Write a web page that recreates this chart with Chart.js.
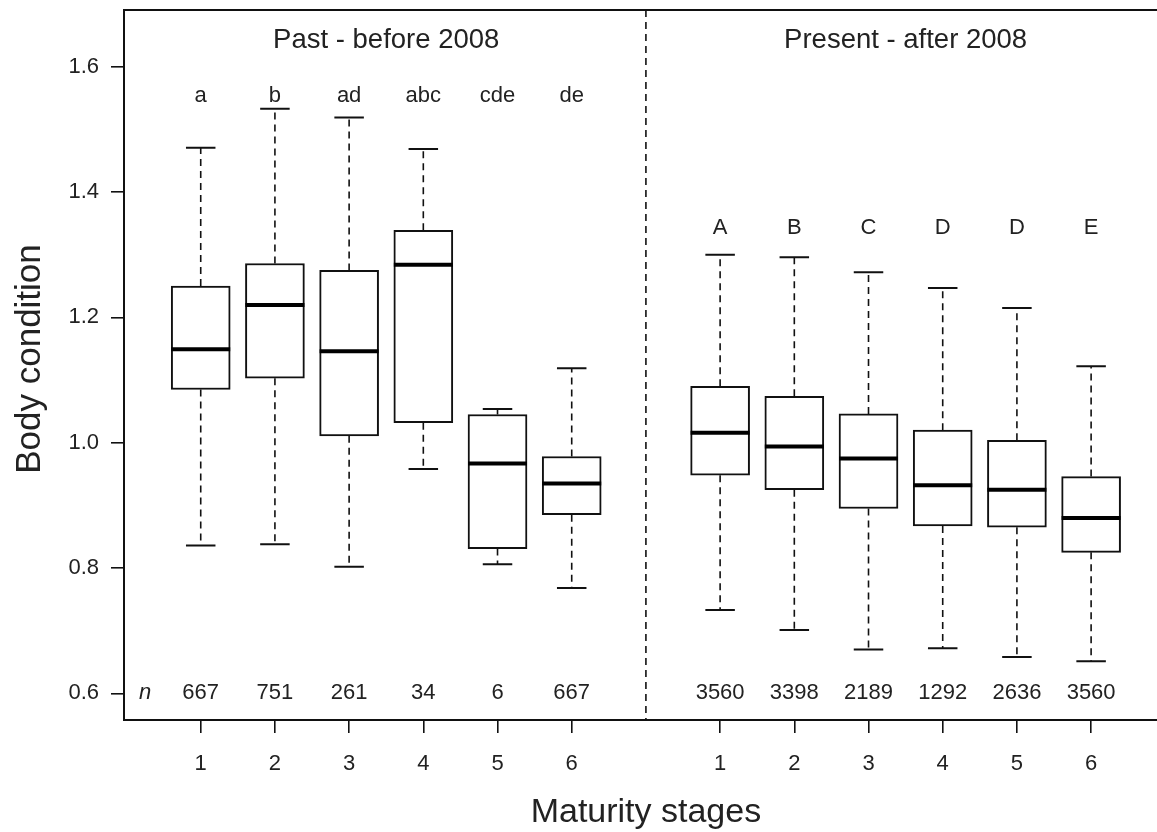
<!DOCTYPE html>
<html>
<head>
<meta charset="utf-8">
<script src="https://cdn.jsdelivr.net/npm/chart.js@4/dist/chart.umd.min.js"></script>
<style>
  html, body { margin: 0; padding: 0; background: #fff; overflow: hidden; }
  #wrap { width: 1157px; height: 832px; }
</style>
</head>
<body>
<div id="wrap"><canvas id="c" width="1157" height="832"></canvas></div>
<script>
// ---------------- data ----------------
const stageLabels = ['1', '2', '3', '4', '5', '6'];
const periodTitles = ['Past - before 2008', 'Present - after 2008'];
const yTickValues = [0.6, 0.8, 1.0, 1.2, 1.4, 1.6];

// Past - before 2008
const pastMin    = [0.836, 0.838, 0.802, 0.958, 0.806, 0.768];
const pastQ1     = [1.085, 1.103, 1.011, 1.032, 0.831, 0.885];
const pastMedian = [1.149, 1.220, 1.146, 1.284, 0.967, 0.935];
const pastQ3     = [1.250, 1.286, 1.275, 1.339, 1.045, 0.978];
const pastMax    = [1.471, 1.533, 1.519, 1.469, 1.054, 1.119];
const pastLetters = ['a', 'b', 'ad', 'abc', 'cde', 'de'];
const pastN       = ['667', '751', '261', '34', '6', '667'];

// Present - after 2008
const presMin    = [0.733, 0.701, 0.670, 0.672, 0.658, 0.651];
const presQ1     = [0.948, 0.925, 0.895, 0.867, 0.865, 0.825];
const presMedian = [1.016, 0.994, 0.975, 0.932, 0.925, 0.880];
const presQ3     = [1.090, 1.074, 1.046, 1.020, 1.004, 0.946];
const presMax    = [1.300, 1.296, 1.272, 1.247, 1.215, 1.122];
const presLetters = ['A', 'B', 'C', 'D', 'D', 'E'];
const presN       = ['3560', '3398', '2189', '1292', '2636', '3560'];

// positions on the shared x axis (past 1..6, divider at 7, present 8..13)
const pastX = [1, 2, 3, 4, 5, 6];
const presX = [8, 9, 10, 11, 12, 13];
const dividerX = 7;

// ---------------- derived ----------------
const allX = pastX.concat(presX);
const allMin = pastMin.concat(presMin);
const allQ1 = pastQ1.concat(presQ1);
const allMed = pastMedian.concat(presMedian);
const allQ3 = pastQ3.concat(presQ3);
const allMax = pastMax.concat(presMax);
const tickLabelMap = {};
allX.forEach((x, i) => { tickLabelMap[x] = stageLabels[i % 6]; });

const FONT = "'Liberation Sans', Arial, Helvetica, sans-serif";
const TXT = '#222';
const LINE = '#111';

const boxPlugin = {
  id: 'boxExtras',
  beforeDatasetsDraw(chart) {
    const ctx = chart.ctx, xs = chart.scales.x, ys = chart.scales.y;
    const meta = chart.getDatasetMeta(0);
    ctx.save();
    ctx.strokeStyle = LINE;
    // whiskers (dashed) and caps
    meta.data.forEach((el, i) => {
      const x = xs.getPixelForValue(allX[i]);
      const capHalf = el.width / 4;
      ctx.lineWidth = 1.6;
      ctx.setLineDash([7, 5]);
      ctx.beginPath();
      ctx.moveTo(x, ys.getPixelForValue(allQ3[i]));
      ctx.lineTo(x, ys.getPixelForValue(allMax[i]));
      ctx.moveTo(x, ys.getPixelForValue(allQ1[i]));
      ctx.lineTo(x, ys.getPixelForValue(allMin[i]));
      ctx.stroke();
      ctx.setLineDash([]);
      ctx.lineWidth = 2;
      ctx.beginPath();
      const yMax = ys.getPixelForValue(allMax[i]);
      const yMin = ys.getPixelForValue(allMin[i]);
      ctx.moveTo(x - capHalf, yMax); ctx.lineTo(x + capHalf, yMax);
      ctx.moveTo(x - capHalf, yMin); ctx.lineTo(x + capHalf, yMin);
      ctx.stroke();
    });
    // divider
    const a = chart.chartArea;
    const dx = xs.getPixelForValue(dividerX);
    ctx.lineWidth = 1.6;
    ctx.setLineDash([7, 5]);
    ctx.beginPath();
    ctx.moveTo(dx, a.top); ctx.lineTo(dx, a.bottom);
    ctx.stroke();
    ctx.setLineDash([]);
    // top frame line
    ctx.lineWidth = 2;
    ctx.beginPath();
    ctx.moveTo(a.left, a.top); ctx.lineTo(a.right, a.top);
    ctx.stroke();
    ctx.restore();
  },
  afterDatasetsDraw(chart) {
    const ctx = chart.ctx, xs = chart.scales.x, ys = chart.scales.y;
    const meta = chart.getDatasetMeta(0);
    const a = chart.chartArea;
    ctx.save();
    // medians
    ctx.strokeStyle = '#000';
    ctx.lineWidth = 4;
    meta.data.forEach((el, i) => {
      const y = ys.getPixelForValue(allMed[i]);
      ctx.beginPath();
      ctx.moveTo(el.x - el.width / 2, y);
      ctx.lineTo(el.x + el.width / 2, y);
      ctx.stroke();
    });
    // letters
    ctx.fillStyle = TXT;
    ctx.textAlign = 'center';
    ctx.textBaseline = 'middle';
    ctx.font = '22px ' + FONT;
    pastX.forEach((x, i) => {
      ctx.fillText(pastLetters[i], xs.getPixelForValue(x), ys.getPixelForValue(1.553));
      ctx.fillText(pastN[i], xs.getPixelForValue(x), ys.getPixelForValue(0.6));
    });
    presX.forEach((x, i) => {
      ctx.fillText(presLetters[i], xs.getPixelForValue(x), ys.getPixelForValue(1.343));
      ctx.fillText(presN[i], xs.getPixelForValue(x), ys.getPixelForValue(0.6));
    });
    ctx.font = 'italic 22px ' + FONT;
    ctx.fillText('n', xs.getPixelForValue(0.25), ys.getPixelForValue(0.6));
    // panel titles
    ctx.font = '27.5px ' + FONT;
    ctx.fillText(periodTitles[0], xs.getPixelForValue(3.5), ys.getPixelForValue(1.6428));
    ctx.fillText(periodTitles[1], xs.getPixelForValue(10.5), ys.getPixelForValue(1.6428));
    // axis titles
    ctx.font = '34px ' + FONT;
    ctx.fillText('Maturity stages', xs.getPixelForValue(dividerX), 813);
    ctx.save();
    ctx.translate(30, (a.top + a.bottom) / 2 - 6);
    ctx.rotate(-Math.PI / 2);
    ctx.font = '35px ' + FONT;
    ctx.fillText('Body condition', 0, 0);
    ctx.restore();
    ctx.restore();
  }
};

new Chart(document.getElementById('c'), {
  type: 'bar',
  data: {
    datasets: [{
      data: allX.map((x, i) => ({ x: x, y: [allQ1[i], allQ3[i]] })),
      backgroundColor: '#fff',
      borderColor: LINE,
      borderWidth: 2,
      borderSkipped: false,
      barThickness: 59
    }]
  },
  options: {
    responsive: false,
    animation: false,
    events: [],
    layout: { padding: { top: 10, right: 0, left: 0, bottom: 0 } },
    plugins: { legend: { display: false }, tooltip: { enabled: false } },
    scales: {
      x: {
        type: 'linear',
        offset: false,
        min: -0.034,
        max: 13.888,
        afterFit(s) { s.height = 112; s.paddingLeft = 0; s.paddingRight = 0; },
        afterBuildTicks(s) { s.ticks = allX.map(v => ({ value: v })); },
        ticks: {
          callback: v => tickLabelMap[v] || '',
          font: { family: FONT, size: 22 },
          color: TXT,
          padding: 18,
          maxRotation: 0,
          autoSkip: false
        },
        grid: { offset: false, drawOnChartArea: false, drawTicks: true, tickLength: 13, color: LINE, lineWidth: 1.6 },
        border: { display: true, color: LINE, width: 2 }
      },
      y: {
        type: 'linear',
        min: 0.5574,
        max: 1.6907,
        afterFit(s) { s.width = 124; s.paddingTop = 0; s.paddingBottom = 0; },
        afterBuildTicks(s) { s.ticks = yTickValues.map(v => ({ value: v })); },
        ticks: {
          callback: v => Number(v).toFixed(1),
          font: { family: FONT, size: 22 },
          color: TXT,
          padding: 12
        },
        grid: { drawOnChartArea: false, drawTicks: true, tickLength: 13, color: LINE, lineWidth: 1.6 },
        border: { display: true, color: LINE, width: 2 }
      }
    }
  },
  plugins: [boxPlugin]
});
</script>
</body>
</html>
